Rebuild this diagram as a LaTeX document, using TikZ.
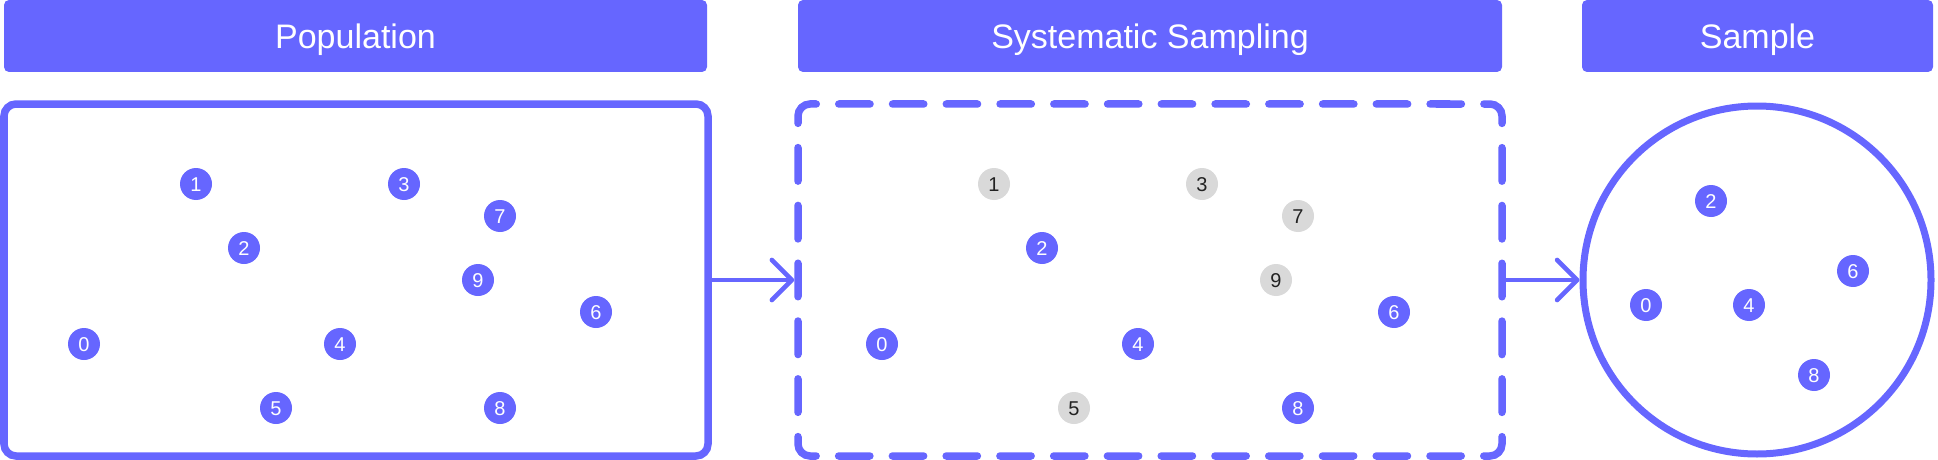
\documentclass[tikz,border=0pt]{standalone}
\usepackage{fontspec}
\setmainfont{Liberation Sans}
\usetikzlibrary{arrows.meta}
\definecolor{brand}{HTML}{6666FF}
\definecolor{muted}{HTML}{D9D9D9}
\definecolor{ink}{HTML}{222222}
\begin{document}
\begin{tikzpicture}[x=1pt,y=-1pt,
  header/.style={fill=brand, rounded corners=5pt, text=white, font=\fontsize{34}{34}\selectfont, minimum height=72pt, inner sep=0pt, text height=24.4pt, text depth=0pt},
  frame/.style={draw=brand, line width=7.5pt, rounded corners=12pt, minimum width=704pt, minimum height=352pt, inner sep=0pt},
  hollowframe/.style={minimum width=704pt, minimum height=352pt, inner sep=0pt, outer sep=3.75pt},
  dashside/.style={draw=brand, line width=7.5pt, line cap=round, dash pattern=on 31.26pt off 22.5pt, dash phase=15.63pt},
  dashupright/.style={draw=brand, line width=7.5pt, line cap=round, dash pattern=on 33.5pt off 24.3pt, dash phase=16.75pt},
  ring/.style={circle, draw=brand, line width=7pt, minimum size=348pt, inner sep=0pt},
  dot/.style={circle, minimum size=32pt, inner sep=0pt, font=\fontsize{20}{20}\selectfont, text height=14.3pt, text depth=0pt},
  sel/.style={dot, fill=brand, text=white},
  unsel/.style={dot, fill=muted, text=ink},
  conn/.style={draw=brand, line width=4.7pt, line cap=round, shorten <=1pt, -{Straight Barb[length=20pt, width=40pt, line cap=round, line join=round]}}
]
\useasboundingbox (0,0) rectangle (1938,460);
% headers
\node[header, minimum width=703pt] (hpop) at (355.5,36) {Population};
\node[header, minimum width=704pt] (hsys) at (1150,36) {Systematic Sampling};
\node[header, minimum width=351pt] (hsam) at (1757.5,36) {Sample};
% frames
\node[frame] (pop) at (356,280) {};
\node[hollowframe] (sys) at (1150,280) {};
\node[ring] (sam) at (1757,280) {};
% dashed border of the systematic sampling frame, side by side
\draw[dashside] (801.51,107.51) arc[start angle=225, end angle=270, radius=12] -- (1490,104) arc[start angle=270, end angle=315, radius=12];
\draw[dashupright] (1498.49,107.51) arc[start angle=315, end angle=360, radius=12] -- (1502,444) arc[start angle=0, end angle=45, radius=12];
\draw[dashside] (1498.49,452.49) arc[start angle=45, end angle=90, radius=12] -- (810,456) arc[start angle=90, end angle=135, radius=12];
\draw[dashupright] (801.51,452.49) arc[start angle=135, end angle=180, radius=12] -- (798,116) arc[start angle=180, end angle=225, radius=12];
% population
\node[sel] (p0) at (84,344) {0};
\node[sel] (p1) at (196,184) {1};
\node[sel] (p2) at (244,248) {2};
\node[sel] (p3) at (404,184) {3};
\node[sel] (p4) at (340,344) {4};
\node[sel] (p5) at (276,408) {5};
\node[sel] (p6) at (596,312) {6};
\node[sel] (p7) at (500,216) {7};
\node[sel] (p8) at (500,408) {8};
\node[sel] (p9) at (478,280) {9};
% systematic sampling
\node[sel]   (s0) at (882,344) {0};
\node[unsel] (s1) at (994,184) {1};
\node[sel]   (s2) at (1042,248) {2};
\node[unsel] (s3) at (1202,184) {3};
\node[sel]   (s4) at (1138,344) {4};
\node[unsel] (s5) at (1074,408) {5};
\node[sel]   (s6) at (1394,312) {6};
\node[unsel] (s7) at (1298,216) {7};
\node[sel]   (s8) at (1298,408) {8};
\node[unsel] (s9) at (1276,280) {9};
% sample
\node[sel] (m2) at (1711,201) {2};
\node[sel] (m0) at (1646,305) {0};
\node[sel] (m4) at (1749,305) {4};
\node[sel] (m6) at (1853,271) {6};
\node[sel] (m8) at (1814,375) {8};
% connectors
\draw[conn] (pop.east) -- (sys.west);
\draw[conn] (sys.east) -- (sam.west);
\end{tikzpicture}
\end{document}
